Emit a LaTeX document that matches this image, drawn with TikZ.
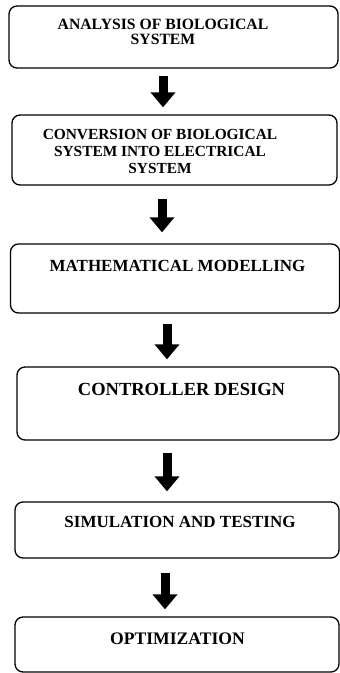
\documentclass[tikz,border=0pt]{standalone}
\usepackage{fontspec}
\setmainfont{Liberation Serif}
\usetikzlibrary{arrows.meta}
\usetikzlibrary{shapes}

\tikzset{
  flowbox/.style={draw=black,line width=1.3pt,rounded corners=8pt,inner sep=0pt},
  flowtext/.style={font=\bfseries,align=center,inner sep=0pt,anchor=base},
  flowarrow/.style={draw=black,line width=9pt,-{Triangle[width=24pt,length=15pt]}},
}

\begin{document}
\begin{tikzpicture}[x=1pt,y=1pt,line join=bevel,]
%%
\useasboundingbox (0,0) rectangle (340,-673);
\node (box_1) at (173.5,-37) [flowbox,minimum width=329pt,minimum height=62pt] {};
  \node (box_2) at (174.5,-150) [flowbox,minimum width=325pt,minimum height=70pt] {};
  \node (box_3) at (175,-278.5) [flowbox,minimum width=329pt,minimum height=69pt] {};
  \node (box_4) at (178,-403.5) [flowbox,minimum width=322pt,minimum height=73pt] {};
  \node (box_5) at (177,-530) [flowbox,minimum width=324pt,minimum height=56pt] {};
  \node (box_6) at (177,-644.5) [flowbox,minimum width=324pt,minimum height=55pt] {};
  \node (text_1) at (163,-44.7) [flowtext,font=\fontsize{15.7}{15.3}\selectfont\bfseries] {ANALYSIS OF BIOLOGICAL\\SYSTEM};
  \node (text_2) at (160,-173) [flowtext,font=\fontsize{15.4}{17}\selectfont\bfseries] {CONVERSION OF BIOLOGICAL\\SYSTEM INTO ELECTRICAL\\SYSTEM};
  \node (text_3) at (177.5,-271) [flowtext,font=\fontsize{17}{18}\selectfont\bfseries] {MATHEMATICAL MODELLING};
  \node (text_4) at (181.5,-395) [flowtext,font=\fontsize{18.5}{19}\selectfont\bfseries] {CONTROLLER DESIGN};
  \node (text_5) at (180,-527) [flowtext,font=\fontsize{17}{18}\selectfont\bfseries] {SIMULATION AND TESTING};
  \node (text_6) at (177.5,-644) [flowtext,font=\fontsize{17.6}{18}\selectfont\bfseries] {OPTIMIZATION};
  \draw [flowarrow,shorten <=7pt,shorten >=7pt] (box_1.south -| 163,0) -- (box_2.north -| 163,0);
  \draw [flowarrow,shorten <=13pt,shorten >=11pt] (box_2.south -| 162,0) -- (box_3.north -| 162,0);
  \draw [flowarrow,shorten <=10pt,shorten >=7pt] (box_3.south -| 167,0) -- (box_4.north -| 167,0);
  \draw [flowarrow,shorten <=12pt,shorten >=10pt] (box_4.south -| 167,0) -- (box_5.north -| 167,0);
  \draw [flowarrow,shorten <=14pt,shorten >=7pt] (box_5.south -| 165,0) -- (box_6.north -| 165,0);
%
\end{tikzpicture}
\end{document}
